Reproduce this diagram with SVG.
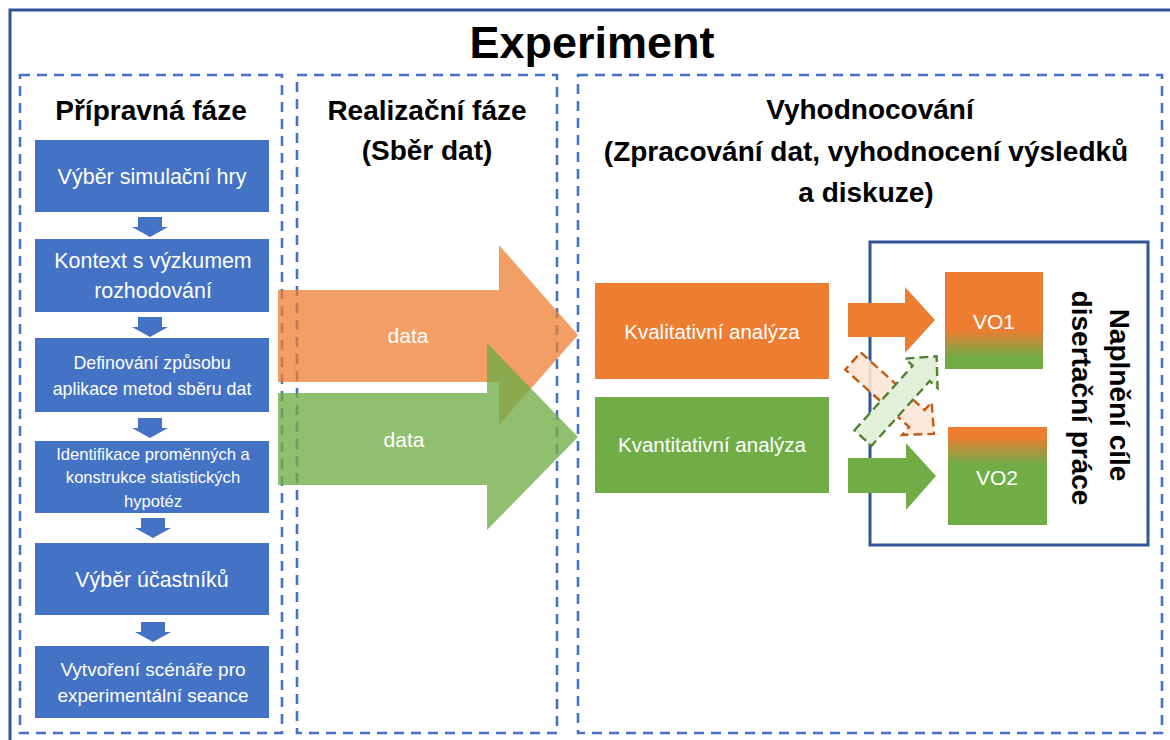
<svg xmlns="http://www.w3.org/2000/svg" width="1170" height="740" viewBox="0 0 1170 740">
<defs>
<style>
.t{font-family:"Liberation Sans",Arial,sans-serif;}
.hd{font-family:"Liberation Sans",Arial,sans-serif;font-weight:bold;fill:#000;text-anchor:middle;font-size:28px;}
.wt{font-family:"Liberation Sans",Arial,sans-serif;fill:#fff;text-anchor:middle;}
.phase{fill:none;stroke:#4472C4;stroke-width:2.6;stroke-dasharray:10 7;}
.blue{fill:#4472C4;}
.down{fill:#4472C4;}
</style>
<path id="dn" d="M-12,0 H12 V10 H18 L0,20 L-18,10 H-12 Z"/>
<linearGradient id="g1" x1="0" y1="0" x2="0" y2="1">
<stop offset="0" stop-color="#ED7D31"/>
<stop offset="0.6" stop-color="#ED7D31"/>
<stop offset="0.88" stop-color="#70AD47"/>
<stop offset="1" stop-color="#70AD47"/>
</linearGradient>
<linearGradient id="g2" x1="0" y1="0" x2="0" y2="1">
<stop offset="0" stop-color="#ED7D31"/>
<stop offset="0.1" stop-color="#ED7D31"/>
<stop offset="0.38" stop-color="#70AD47"/>
<stop offset="1" stop-color="#70AD47"/>
</linearGradient>
</defs>
<rect width="1170" height="740" fill="#fff"/>

<g id="outer">
<rect x="10" y="10" width="1200" height="800" fill="none" stroke="#2F5597" stroke-width="3"/>
<text class="hd" x="592" y="58" style="font-size:45px">Experiment</text>
</g>

<g id="phase-prep">
<rect class="phase" x="20" y="75" width="262" height="658"/>
<text class="hd" x="151" y="120">Přípravná fáze</text>
</g>
<g id="phase-real">
<rect class="phase" x="297" y="75" width="260" height="658"/>
<text class="hd" x="427" y="120">Realizační fáze</text>
<text class="hd" x="427" y="160">(Sběr dat)</text>
</g>
<g id="phase-eval">
<rect class="phase" x="578" y="75" width="584" height="658"/>
<text class="hd" x="870" y="119">Vyhodnocování</text>
<text class="hd" x="866" y="161">(Zpracování dat, vyhodnocení výsledků</text>
<text class="hd" x="866" y="202">a diskuze)</text>
</g>

<g id="box1">
<rect class="blue" x="35" y="140" width="234" height="72"/>
<text class="wt" x="152" y="184" style="font-size:21.5px">Výběr simulační hry</text>
</g>
<g id="box2">
<rect class="blue" x="35" y="239" width="234" height="73"/>
<text class="wt" x="153" y="268" style="font-size:21.4px">Kontext s výzkumem</text>
<text class="wt" x="153" y="298" style="font-size:21.4px">rozhodování</text>
</g>
<g id="box3">
<rect class="blue" x="35" y="338" width="234" height="74"/>
<text class="wt" x="152" y="369" style="font-size:17.8px">Definování způsobu</text>
<text class="wt" x="152" y="395" style="font-size:17.8px">aplikace metod sběru dat</text>
</g>
<g id="box4">
<rect class="blue" x="35" y="441" width="234" height="72"/>
<text class="wt" x="153" y="460" style="font-size:16.6px">Identifikace proměnných a</text>
<text class="wt" x="153" y="483" style="font-size:16.6px">konstrukce statistických</text>
<text class="wt" x="153" y="507" style="font-size:16.6px">hypotéz</text>
</g>
<g id="box5">
<rect class="blue" x="35" y="543" width="234" height="72"/>
<text class="wt" x="152" y="587" style="font-size:21.4px">Výběr účastníků</text>
</g>
<g id="box6">
<rect class="blue" x="35" y="646" width="234" height="72"/>
<text class="wt" x="153" y="676" style="font-size:19px">Vytvoření scénáře pro</text>
<text class="wt" x="153" y="702" style="font-size:19px">experimentální seance</text>
</g>

<g id="kval">
<rect x="595" y="283" width="234" height="96" fill="#ED7D31"/>
<text class="wt" x="712" y="339" style="font-size:20.5px">Kvalitativní analýza</text>
</g>
<g id="kvant">
<rect x="595" y="397" width="234" height="96" fill="#70AD47"/>
<text class="wt" x="712" y="452" style="font-size:20.5px">Kvantitativní analýza</text>
</g>

<g id="goal">
<rect x="870" y="242" width="278" height="303" fill="none" stroke="#2F5597" stroke-width="3"/>
<text class="hd" transform="translate(1110,395) rotate(90)">Naplnění cíle</text>
<text class="hd" transform="translate(1072,398) rotate(90)">disertační práce</text>
</g>

<g id="connectors">
<use href="#dn" class="down" x="150" y="217"/>
<use href="#dn" class="down" x="150" y="317"/>
<use href="#dn" class="down" x="150" y="418"/>
<use href="#dn" class="down" x="153" y="518"/>
<use href="#dn" class="down" x="153" y="622"/>

<path d="M278,290 H499 V245 L578,335 L499,425 V382 H278 Z" fill="#ED7D31" fill-opacity="0.75"/>
<path d="M278,393 H487 V343 L578,437 L487,530 V485 H278 Z" fill="#70AD47" fill-opacity="0.78"/>
<text class="wt" x="408" y="343" style="font-size:21px">data</text>
<text class="wt" x="404" y="447" style="font-size:21px">data</text>

<path d="M848,303 H905 V287 L935,320 L905,353 V337 H848 Z" fill="#ED7D31"/>
<path d="M848,458 H906 V443 L936,476 L906,510 V493 H848 Z" fill="#70AD47"/>

<path transform="translate(853,361) rotate(42)" d="M0,-11.5 H86 V-22 L109,0 L86,22 V11.5 H0 Z" fill="#FBE5D6" fill-opacity="0.9" stroke="#C55A11" stroke-width="2.4" stroke-dasharray="9 5"/>
<path transform="translate(863,438) rotate(-48)" d="M0,-11.5 H87 V-22 L110,0 L87,22 V11.5 H0 Z" fill="#E2F0D9" stroke="#548235" stroke-width="2.4" stroke-dasharray="9 5"/>
</g>

<g id="vo1">
<rect x="945" y="272" width="98" height="97" fill="url(#g1)"/>
<text class="wt" x="994" y="329" style="font-size:21px">VO1</text>
</g>
<g id="vo2">
<rect x="948" y="427" width="99" height="98" fill="url(#g2)"/>
<text class="wt" x="997" y="485" style="font-size:21px">VO2</text>
</g>
</svg>
